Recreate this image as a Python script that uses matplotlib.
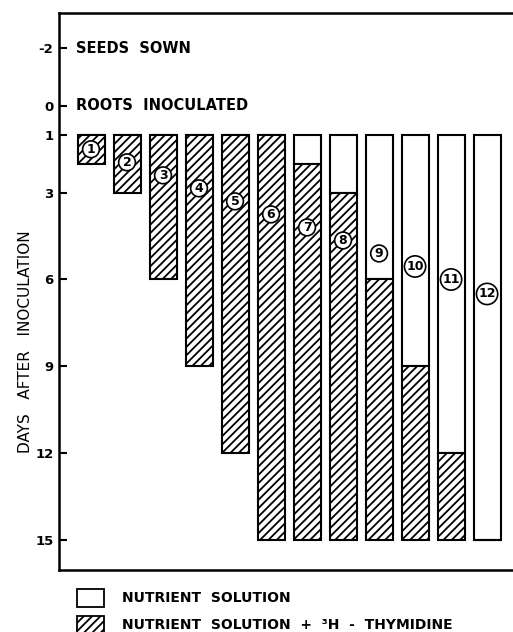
import matplotlib
matplotlib.use("Agg")
import matplotlib.pyplot as plt
from matplotlib.patches import Rectangle

# plant / root system number
plants = list(range(1, 13))
# day the plain nutrient solution ends (starts at day 1)
plain_end = [1, 1, 1, 1, 1, 1, 2, 3, 6, 9, 12, 15]
# day the labelled (3H-thymidine) solution ends
label_end = [2, 3, 6, 9, 12, 15, 15, 15, 15, 15, 15, 15]
start_day = 1
# day at which each circled number sits
number_day = [1.5, 1.95, 2.4, 2.85, 3.3, 3.75, 4.2, 4.65, 5.1, 5.55, 6.0, 6.5]

day_ticks = [-2, 0, 1, 3, 6, 9, 12, 15]
events = {-2: "SEEDS  SOWN", 0: "ROOTS  INOCULATED"}

plt.rcParams['font.family'] = 'DejaVu Sans'
plt.rcParams['hatch.linewidth'] = 1.3

fig = plt.figure(figsize=(5.13, 6.32), dpi=100)
ax = fig.add_axes([59 / 513, 1 - 570 / 632, 1 - 59 / 513, 557 / 632])

w = 0.75
plain_h = [e - start_day for e in plain_end]
ax.bar(plants, plain_h, bottom=start_day, width=w, color='white',
       edgecolor='black', linewidth=1.5, zorder=2)
lab_h = [l - p for p, l in zip(plain_end, label_end)]
ax.bar(plants, lab_h, bottom=plain_end, width=w, color='white',
       edgecolor='black', hatch='////', linewidth=1.5, zorder=2)

for p, d in zip(plants, number_day):
    ax.text(p, d, str(p), ha='center', va='center', fontsize=9,
            fontweight='bold', zorder=4,
            bbox=dict(boxstyle='circle,pad=0.15', fc='white', ec='black', lw=1.2))

for d, txt in events.items():
    ax.text(0.58, d, txt, ha='left', va='center', fontsize=10.5, fontweight='bold')

ax.set_xlim(0.111, 12.72)
ax.set_ylim(16.04, -3.21)
ax.set_yticks(day_ticks)
ax.set_yticklabels([str(t) for t in day_ticks], fontsize=9.5, fontweight='bold')
ax.tick_params(axis='y', direction='in', length=6, width=1.5, pad=4)
ax.set_xticks([])
ax.spines['right'].set_visible(False)
for s in ['left', 'top', 'bottom']:
    ax.spines[s].set_linewidth(1.8)

fig.text(26 / 513, 1 - 342 / 632, "DAYS   AFTER   INOCULATION", rotation=90,
         ha='center', va='center', fontsize=11)

# legend
legend_rows = [("NUTRIENT  SOLUTION", None, 598),
               ("NUTRIENT  SOLUTION  +  ³H  -  THYMIDINE", '////', 625)]
for txt, hatch, yc in legend_rows:
    fig.patches.append(Rectangle((77 / 513, 1 - (yc + 9) / 632), 27 / 513, 18 / 632,
                                 transform=fig.transFigure, fc='white', ec='black',
                                 lw=1.3, hatch=hatch))
    fig.text(122 / 513, 1 - yc / 632, txt, ha='left', va='center',
             fontsize=10, fontweight='bold')

fig.savefig("out.png", dpi=100)
